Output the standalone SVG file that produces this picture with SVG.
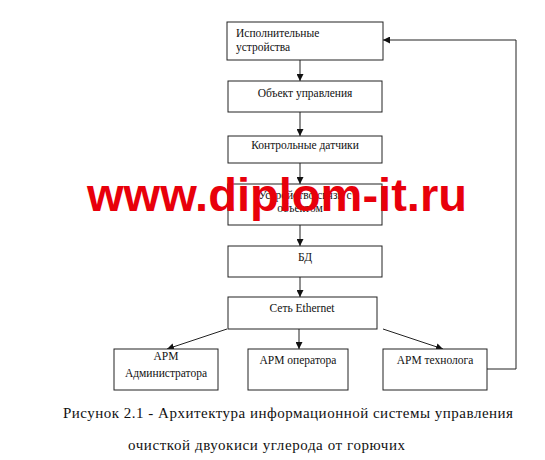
<svg xmlns="http://www.w3.org/2000/svg" width="545" height="460" viewBox="0 0 545 460">
<style>
.box{fill:#fff;stroke:#222;stroke-width:1}
.t{font-family:"Liberation Serif","Times New Roman",serif;font-size:11.5px;fill:#111}
.c{text-anchor:middle}
.ln{stroke:#222;stroke-width:1;fill:none}
.cap{font-family:"Liberation Serif","Times New Roman",serif;font-size:15px;fill:#111}
.wm{font-family:"Liberation Sans",Arial,sans-serif;font-weight:bold;font-size:47px;fill:#e8000b}
</style>
<defs>
<marker id="ah" viewBox="0 0 10 10" refX="10" refY="5" markerWidth="7" markerHeight="7" orient="auto" markerUnits="userSpaceOnUse">
<path d="M0,0 L10,5 L0,10 z" fill="#111"/>
</marker>
</defs>
<rect width="545" height="460" fill="#fff"/>
<g id="connectors">
<line class="ln" x1="300" y1="60" x2="300" y2="81" marker-end="url(#ah)"/>
<line class="ln" x1="300" y1="112" x2="300" y2="136" marker-end="url(#ah)"/>
<line class="ln" x1="300" y1="163" x2="300" y2="184" marker-end="url(#ah)"/>
<line class="ln" x1="300" y1="225" x2="300" y2="246" marker-end="url(#ah)"/>
<line class="ln" x1="300" y1="277" x2="300" y2="297" marker-end="url(#ah)"/>
<line class="ln" x1="227" y1="329" x2="167" y2="349" marker-end="url(#ah)"/>
<line class="ln" x1="299" y1="329" x2="299" y2="349" marker-end="url(#ah)"/>
<line class="ln" x1="383" y1="329" x2="443" y2="349" marker-end="url(#ah)"/>
<polyline class="ln" points="487,369 516,369 516,40 383,40" marker-end="url(#ah)"/>
</g>
<g id="n1"><rect class="box" x="227" y="22" width="156" height="38"/>
<text class="t" x="236" y="37">Исполнительные</text><text class="t" x="236" y="51">устройства</text></g>
<g id="n2"><rect class="box" x="228" y="81" width="154" height="31"/>
<text class="t c" x="305" y="97">Объект управления</text></g>
<g id="n3"><rect class="box" x="228" y="136" width="154" height="27"/>
<text class="t c" x="305" y="149">Контрольные датчики</text></g>
<g id="n4"><rect class="box" x="228" y="184" width="154" height="41"/>
<text class="t c" x="305" y="199">Устройство связи с</text><text class="t c" x="300" y="212">объектом</text></g>
<g id="n5"><rect class="box" x="228" y="246" width="154" height="31"/>
<text class="t c" x="305" y="261">БД</text></g>
<g id="n6"><rect class="box" x="228" y="297" width="149" height="32"/>
<text class="t c" x="302" y="312">Сеть Ethernet</text></g>
<g id="n7"><rect class="box" x="114" y="349" width="104" height="41"/>
<text class="t c" x="166" y="360">АРМ</text><text class="t c" x="166" y="377">Администратора</text></g>
<g id="n8"><rect class="box" x="248" y="349" width="100" height="41"/>
<text class="t c" x="298" y="364">АРМ оператора</text></g>
<g id="n9"><rect class="box" x="383" y="349" width="104" height="41"/>
<text class="t c" x="435" y="364">АРМ технолога</text></g>
<text class="wm" x="87" y="211" textLength="380" lengthAdjust="spacingAndGlyphs">www.diplom-it.ru</text>
<text class="cap" x="63" y="418" textLength="450" lengthAdjust="spacing">Рисунок 2.1 - Архитектура информационной системы управления</text>
<text class="cap" x="128" y="450" textLength="277" lengthAdjust="spacing">очисткой двуокиси углерода от горючих</text>
</svg>
